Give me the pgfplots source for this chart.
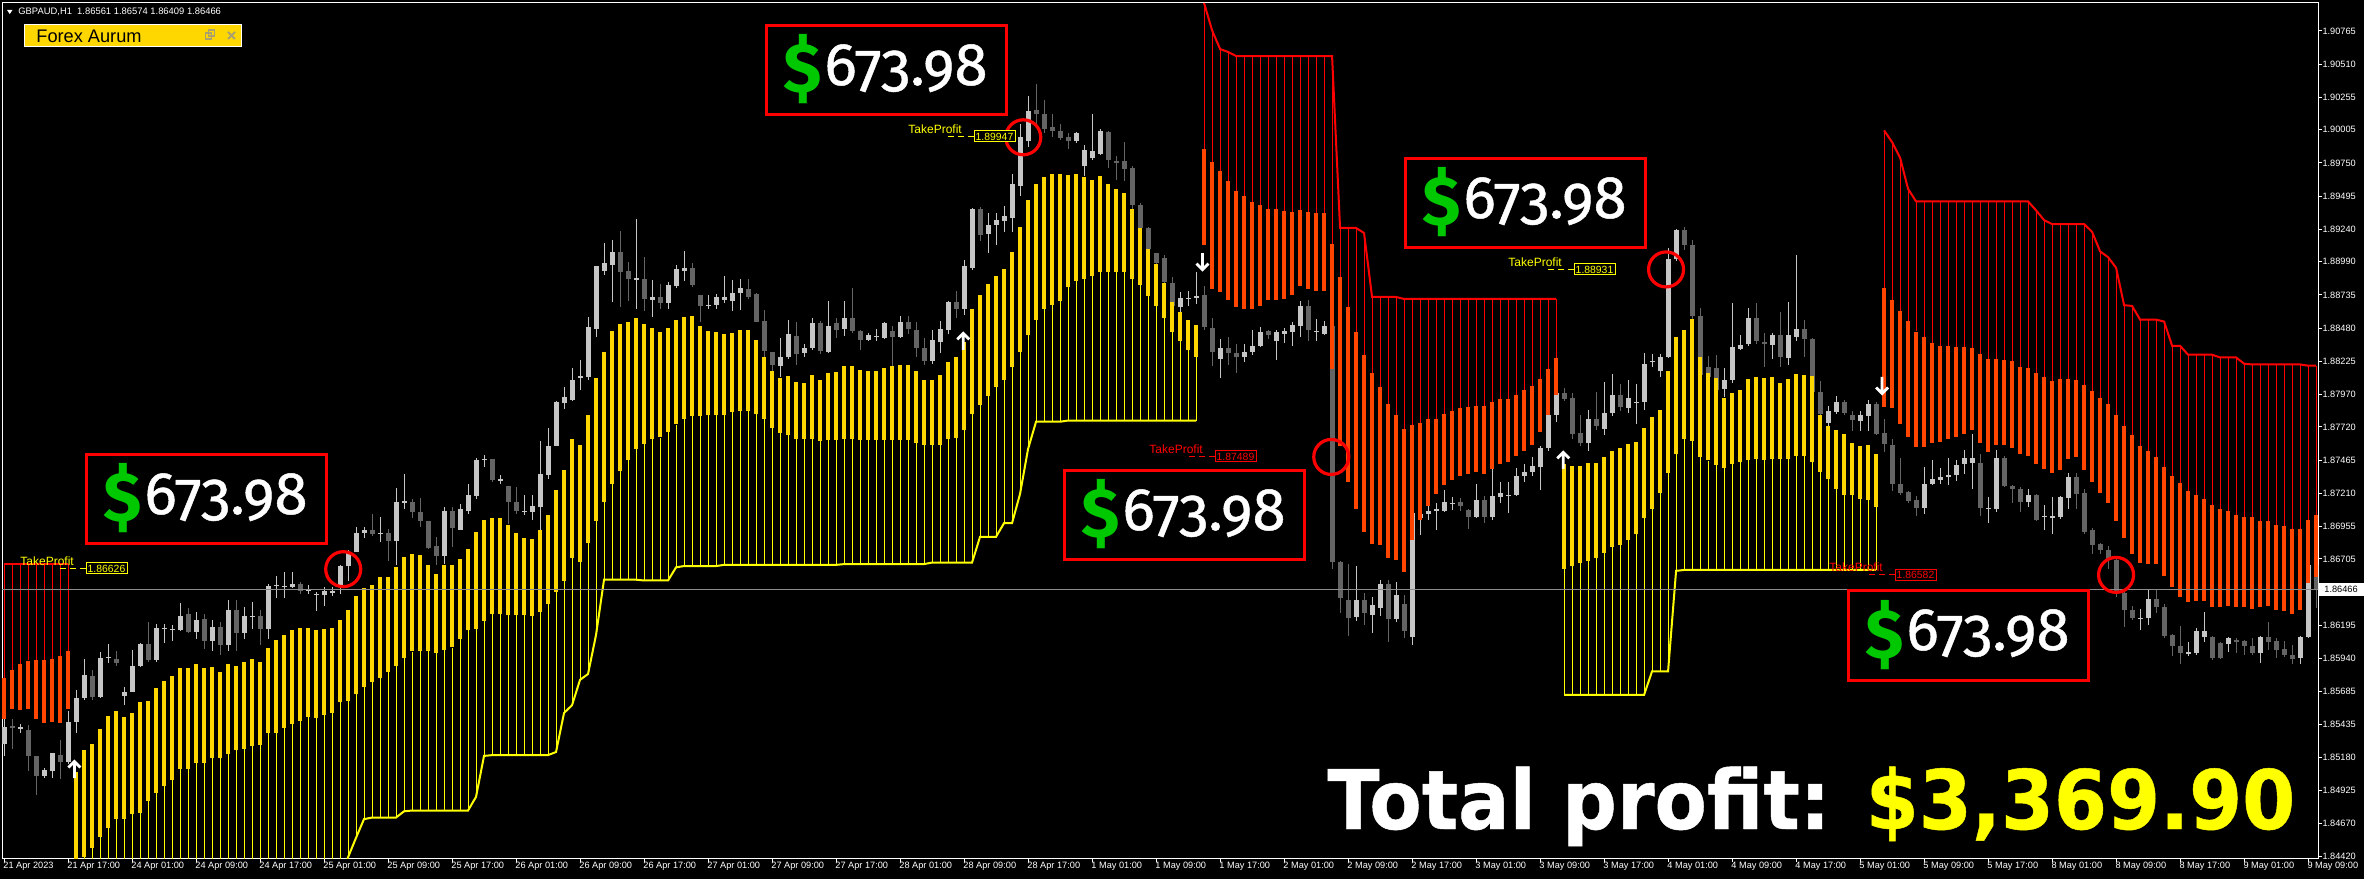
\documentclass[border=0pt]{standalone}
\usepackage{fontspec}
\setmainfont{Liberation Sans}
\newfontfamily\fira{Fira Sans}[Numbers=OldStyle]
\newfontfamily\firam{Fira Sans}[Numbers=OldStyle, FakeBold=0.8]
\newfontfamily\djv{DejaVu Sans}[FakeBold=0.6]
\usepackage{graphicx}
\usepackage{pgfplots}
\usepackage{pgfplotstable}
\pgfplotsset{compat=1.18}
\definecolor{upc}{RGB}{198,198,198}
\definecolor{dnc}{RGB}{100,100,100}
\definecolor{goldc}{RGB}{255,215,0}
\definecolor{ored}{RGB}{255,69,0}
\definecolor{yel}{RGB}{255,255,0}
\definecolor{grn}{RGB}{0,200,0}
\definecolor{pgray}{RGB}{140,140,140}
\definecolor{icon}{RGB}{170,160,110}
\newcommand\fs[1]{\fontsize{#1}{#1}\selectfont}
\pgfdeclareplotmark{uarr}{%
  \pgfpathmoveto{\pgfqpoint{-3bp}{0.8bp}}\pgfpathlineto{\pgfqpoint{0bp}{3.8bp}}\pgfpathlineto{\pgfqpoint{3bp}{0.8bp}}%
  \pgfpathmoveto{\pgfqpoint{0bp}{3.8bp}}\pgfpathlineto{\pgfqpoint{0bp}{-4.5bp}}\pgfusepathqstroke}
\pgfdeclareplotmark{darr}{%
  \pgfpathmoveto{\pgfqpoint{-3bp}{-0.8bp}}\pgfpathlineto{\pgfqpoint{0bp}{-3.8bp}}\pgfpathlineto{\pgfqpoint{3bp}{-0.8bp}}%
  \pgfpathmoveto{\pgfqpoint{0bp}{-3.8bp}}\pgfpathlineto{\pgfqpoint{0bp}{4.5bp}}\pgfusepathqstroke}

% ---------------- candles: up (light) ----------------
\pgfplotstableread{
i l h bl bh
0 1.85190 1.85475 1.85280 1.85415
2 1.85370 1.85436 1.85405 1.85412
5 1.85022 1.85100 1.85034 1.85082
6 1.85016 1.85211 1.85076 1.85211
8 1.85130 1.85535 1.85145 1.85454
9 1.85364 1.85700 1.85454 1.85634
10 1.85619 1.85934 1.85634 1.85814
12 1.85634 1.85985 1.85646 1.85940
13 1.85904 1.86054 1.85944 1.85950
15 1.85580 1.85724 1.85655 1.85685
16 1.85685 1.86006 1.85685 1.85880
17 1.85874 1.86060 1.85880 1.86051
19 1.85916 1.86204 1.85925 1.86174
20 1.86060 1.86204 1.86171 1.86177
21 1.86075 1.86195 1.86162 1.86168
22 1.86150 1.86366 1.86156 1.86270
24 1.86090 1.86300 1.86144 1.86240
26 1.85994 1.86234 1.86075 1.86180
28 1.86000 1.86390 1.86045 1.86315
30 1.86090 1.86336 1.86135 1.86264
31 1.86165 1.86375 1.86261 1.86267
33 1.86090 1.86510 1.86165 1.86495
34 1.86405 1.86576 1.86501 1.86507
35 1.86405 1.86606 1.86492 1.86498
36 1.86480 1.86606 1.86489 1.86516
38 1.86435 1.86504 1.86459 1.86474
39 1.86306 1.86450 1.86432 1.86438
40 1.86345 1.86486 1.86426 1.86456
41 1.86420 1.86492 1.86444 1.86456
42 1.86435 1.86660 1.86495 1.86654
43 1.86534 1.86774 1.86654 1.86762
44 1.86762 1.86954 1.86762 1.86906
45 1.86870 1.86954 1.86906 1.86930
47 1.86834 1.87026 1.86903 1.86909
49 1.86660 1.87254 1.86840 1.87146
50 1.87086 1.87356 1.87143 1.87149
55 1.86666 1.87104 1.86726 1.87074
57 1.86930 1.87125 1.86930 1.87086
58 1.87050 1.87284 1.87074 1.87200
59 1.87170 1.87485 1.87194 1.87470
60 1.87410 1.87506 1.87467 1.87473
62 1.87284 1.87350 1.87311 1.87317
65 1.87044 1.87194 1.87071 1.87077
66 1.87005 1.87194 1.87065 1.87110
67 1.86930 1.87614 1.87104 1.87356
68 1.87320 1.87716 1.87350 1.87578
69 1.87575 1.87920 1.87575 1.87914
70 1.87860 1.88025 1.87905 1.87950
71 1.87920 1.88175 1.87926 1.88085
72 1.88004 1.88235 1.88103 1.88109
73 1.88085 1.88565 1.88100 1.88490
74 1.88415 1.88955 1.88475 1.88955
75 1.88885 1.89131 1.88924 1.88981
76 1.88681 1.89161 1.88966 1.89065
79 1.88630 1.89320 1.88858 1.88864
81 1.88570 1.88849 1.88699 1.88720
83 1.88630 1.88831 1.88675 1.88813
84 1.88789 1.88969 1.88801 1.88939
85 1.88840 1.89071 1.88921 1.88939
88 1.88630 1.88735 1.88654 1.88660
89 1.88630 1.88741 1.88660 1.88720
90 1.88675 1.88879 1.88696 1.88717
91 1.88615 1.88849 1.88690 1.88750
92 1.88621 1.88861 1.88750 1.88789
97 1.88105 1.88405 1.88189 1.88255
98 1.88240 1.88540 1.88255 1.88435
100 1.88261 1.88360 1.88285 1.88330
101 1.88315 1.88555 1.88330 1.88519
103 1.88285 1.88690 1.88300 1.88500
105 1.88420 1.88690 1.88470 1.88555
108 1.88381 1.88441 1.88390 1.88430
109 1.88381 1.88471 1.88414 1.88420
110 1.88399 1.88531 1.88405 1.88516
112 1.88405 1.88570 1.88411 1.88531
116 1.88201 1.88465 1.88231 1.88390
117 1.88291 1.88531 1.88375 1.88470
118 1.88435 1.88690 1.88465 1.88681
120 1.88585 1.89005 1.88630 1.88960
121 1.88930 1.89401 1.88945 1.89395
123 1.89060 1.89365 1.89200 1.89270
124 1.89120 1.89365 1.89275 1.89311
125 1.89221 1.89419 1.89305 1.89341
126 1.89221 1.89665 1.89330 1.89590
127 1.89500 1.90050 1.89575 1.89950
128 1.89875 1.90265 1.89920 1.90151
134 1.89905 1.89989 1.89920 1.89980
135 1.89650 1.89890 1.89731 1.89851
136 1.89770 1.90130 1.89791 1.89839
137 1.89815 1.90010 1.89821 1.89995
147 1.88602 1.88756 1.88643 1.88712
148 1.88650 1.88765 1.88709 1.88715
149 1.88664 1.88911 1.88712 1.88732
152 1.88094 1.88396 1.88242 1.88328
155 1.88218 1.88362 1.88259 1.88300
156 1.88276 1.88465 1.88300 1.88345
157 1.88335 1.88490 1.88345 1.88448
159 1.88232 1.88465 1.88379 1.88448
160 1.88369 1.88482 1.88437 1.88458
161 1.88345 1.88527 1.88448 1.88500
162 1.88413 1.88688 1.88500 1.88653
164 1.88379 1.88551 1.88455 1.88461
165 1.88424 1.88533 1.88437 1.88500
169 1.86228 1.86654 1.86263 1.86390
171 1.86139 1.86414 1.86276 1.86355
172 1.86263 1.86544 1.86331 1.86516
174 1.86218 1.86527 1.86242 1.86424
176 1.86047 1.87058 1.86105 1.87058
177 1.86887 1.87134 1.87017 1.87051
178 1.87007 1.87127 1.87051 1.87076
179 1.86928 1.87134 1.87076 1.87093
180 1.87065 1.87237 1.87076 1.87144
181 1.87082 1.87185 1.87131 1.87137
184 1.87017 1.87281 1.87031 1.87161
186 1.87007 1.87402 1.87024 1.87189
187 1.87134 1.87298 1.87178 1.87213
188 1.87059 1.87298 1.87193 1.87199
189 1.87189 1.87402 1.87196 1.87340
190 1.87298 1.87436 1.87340 1.87374
191 1.87340 1.87487 1.87374 1.87419
192 1.87237 1.87573 1.87408 1.87556
193 1.87532 1.87847 1.87556 1.87813
194 1.87762 1.87991 1.87813 1.87985
198 1.87539 1.87854 1.87600 1.87779
200 1.87659 1.88070 1.87703 1.87830
201 1.87806 1.88129 1.87830 1.87967
203 1.87830 1.88080 1.87864 1.87943
204 1.87745 1.88053 1.87906 1.87912
205 1.87854 1.88293 1.87909 1.88208
206 1.88185 1.88278 1.88222 1.88228
207 1.88105 1.88280 1.88149 1.88259
208 1.88252 1.89099 1.88259 1.89013
209 1.88996 1.89247 1.89013 1.89237
215 1.87950 1.88173 1.88012 1.88080
216 1.88060 1.88671 1.88080 1.88334
217 1.88310 1.88424 1.88320 1.88355
218 1.88345 1.88636 1.88355 1.88561
221 1.88240 1.88446 1.88350 1.88425
223 1.88194 1.88680 1.88254 1.88425
224 1.88380 1.89040 1.88416 1.88476
228 1.87690 1.87885 1.87750 1.87840
229 1.87816 1.87954 1.87834 1.87915
232 1.87690 1.87840 1.87765 1.87810
233 1.87690 1.87930 1.87804 1.87894
240 1.87054 1.87414 1.87096 1.87285
241 1.87270 1.87465 1.87285 1.87324
242 1.87285 1.87405 1.87315 1.87336
243 1.87276 1.87480 1.87336 1.87354
244 1.87306 1.87465 1.87354 1.87426
245 1.87360 1.87546 1.87435 1.87480
246 1.87240 1.87666 1.87444 1.87480
248 1.86985 1.87180 1.87093 1.87099
249 1.87066 1.87540 1.87090 1.87480
253 1.87105 1.87240 1.87144 1.87195
255 1.86925 1.87120 1.87033 1.87039
256 1.86895 1.87180 1.87027 1.87033
257 1.87015 1.87186 1.87024 1.87180
258 1.87090 1.87366 1.87174 1.87336
267 1.86160 1.86325 1.86247 1.86253
268 1.86196 1.86466 1.86250 1.86394
273 1.85956 1.86070 1.85983 1.85989
274 1.85965 1.86175 1.85980 1.86154
275 1.86064 1.86295 1.86106 1.86154
278 1.85986 1.86106 1.86055 1.86100
282 1.85905 1.86115 1.85980 1.86106
287 1.85896 1.86115 1.85944 1.86106
288 1.86100 1.86670 1.86106 1.86655
}\upt

% ---------------- candles: down (dark) ----------------
\pgfplotstableread{
i l h bl bh
1 1.85244 1.85475 1.85406 1.85424
3 1.85076 1.85430 1.85190 1.85394
4 1.84890 1.85190 1.85040 1.85190
7 1.85016 1.85316 1.85145 1.85199
11 1.85625 1.85850 1.85646 1.85805
14 1.85880 1.86000 1.85904 1.85940
18 1.85910 1.86216 1.85925 1.86051
23 1.86135 1.86330 1.86144 1.86279
25 1.86015 1.86285 1.86075 1.86240
27 1.85970 1.86225 1.86045 1.86180
29 1.86000 1.86390 1.86135 1.86315
32 1.86045 1.86315 1.86165 1.86264
37 1.86435 1.86525 1.86459 1.86510
46 1.86885 1.87050 1.86894 1.86930
48 1.86690 1.86936 1.86846 1.86906
51 1.87020 1.87164 1.87065 1.87146
52 1.86954 1.87176 1.86996 1.87065
53 1.86780 1.86996 1.86786 1.86996
54 1.86660 1.86870 1.86726 1.86804
56 1.86795 1.87104 1.86945 1.87074
61 1.87296 1.87470 1.87308 1.87470
63 1.86975 1.87266 1.87146 1.87266
64 1.87050 1.87260 1.87074 1.87140
77 1.88645 1.89230 1.88915 1.89065
78 1.88690 1.88990 1.88861 1.88921
80 1.88615 1.89029 1.88705 1.88855
82 1.88630 1.88819 1.88675 1.88720
86 1.88795 1.88981 1.88810 1.88945
87 1.88525 1.88735 1.88651 1.88735
93 1.88705 1.88855 1.88720 1.88780
94 1.88525 1.88750 1.88531 1.88741
95 1.88255 1.88621 1.88300 1.88531
96 1.88111 1.88300 1.88201 1.88300
99 1.88195 1.88525 1.88285 1.88420
102 1.88279 1.88531 1.88300 1.88519
104 1.88405 1.88555 1.88470 1.88519
106 1.88441 1.88790 1.88460 1.88555
107 1.88315 1.88465 1.88390 1.88460
111 1.88171 1.88495 1.88411 1.88460
113 1.88435 1.88570 1.88470 1.88531
114 1.88255 1.88525 1.88330 1.88470
115 1.88195 1.88405 1.88225 1.88330
119 1.88555 1.88765 1.88630 1.88681
122 1.89149 1.89410 1.89200 1.89395
129 1.90040 1.90361 1.90130 1.90160
130 1.89980 1.90235 1.90010 1.90130
131 1.89950 1.90130 1.89995 1.90025
132 1.89929 1.90050 1.89941 1.89999
133 1.89860 1.89980 1.89920 1.89950
138 1.89710 1.89995 1.89770 1.89989
139 1.89620 1.89800 1.89749 1.89770
140 1.89611 1.89911 1.89701 1.89761
141 1.89395 1.89725 1.89431 1.89710
142 1.89215 1.89440 1.89251 1.89431
143 1.89041 1.89260 1.89089 1.89251
144 1.88969 1.89059 1.88981 1.89059
145 1.88765 1.89041 1.88831 1.89020
146 1.88560 1.88876 1.88650 1.88825
150 1.88465 1.88808 1.88492 1.88732
151 1.88190 1.88561 1.88293 1.88482
153 1.88197 1.88413 1.88286 1.88328
154 1.88139 1.88362 1.88259 1.88290
158 1.88396 1.88465 1.88424 1.88458
163 1.88379 1.88698 1.88465 1.88653
166 1.86630 1.88530 1.86681 1.88500
167 1.86287 1.86688 1.86407 1.86681
168 1.86115 1.86664 1.86252 1.86390
170 1.86194 1.86441 1.86287 1.86390
173 1.86064 1.86544 1.86242 1.86516
175 1.86098 1.86424 1.86150 1.86355
182 1.87076 1.87178 1.87110 1.87144
183 1.86938 1.87093 1.87031 1.87086
185 1.86983 1.87189 1.87031 1.87161
195 1.87916 1.88019 1.87933 1.87985
196 1.87624 1.87985 1.87669 1.87943
197 1.87573 1.87813 1.87600 1.87676
199 1.87693 1.87985 1.87727 1.87779
202 1.87847 1.88053 1.87875 1.87967
210 1.89082 1.89254 1.89117 1.89237
211 1.88551 1.89158 1.88575 1.89117
212 1.88070 1.88636 1.88122 1.88575
213 1.88053 1.88270 1.88105 1.88183
214 1.87967 1.88270 1.88002 1.88173
219 1.88355 1.88671 1.88379 1.88561
220 1.88185 1.88446 1.88356 1.88374
222 1.88185 1.88605 1.88260 1.88425
225 1.88260 1.88545 1.88395 1.88476
226 1.87984 1.88404 1.87990 1.88395
227 1.87765 1.88074 1.87816 1.87990
230 1.87816 1.87930 1.87825 1.87915
231 1.87690 1.87840 1.87774 1.87816
234 1.87660 1.87915 1.87666 1.87894
235 1.87525 1.87786 1.87585 1.87675
236 1.87225 1.87630 1.87285 1.87585
237 1.87195 1.87480 1.87210 1.87285
238 1.87135 1.87225 1.87150 1.87216
239 1.87036 1.87186 1.87096 1.87156
247 1.87036 1.87510 1.87096 1.87444
250 1.87255 1.87495 1.87264 1.87480
251 1.87135 1.87276 1.87240 1.87270
252 1.87066 1.87255 1.87144 1.87240
254 1.87000 1.87204 1.87006 1.87195
259 1.87090 1.87366 1.87204 1.87336
260 1.86895 1.87240 1.86916 1.87210
261 1.86745 1.86940 1.86814 1.86925
262 1.86745 1.86826 1.86775 1.86820
263 1.86625 1.86805 1.86700 1.86775
264 1.86415 1.86706 1.86445 1.86700
265 1.86184 1.86454 1.86310 1.86445
266 1.86235 1.86340 1.86250 1.86316
269 1.86286 1.86475 1.86334 1.86394
270 1.86100 1.86355 1.86115 1.86334
271 1.85956 1.86130 1.86040 1.86124
272 1.85896 1.86190 1.85986 1.86034
276 1.85926 1.86115 1.85944 1.86106
277 1.85935 1.86070 1.85944 1.86055
279 1.85980 1.86100 1.86064 1.86085
280 1.85965 1.86085 1.86040 1.86076
281 1.85965 1.86100 1.85980 1.86034
283 1.86004 1.86220 1.86064 1.86106
284 1.85944 1.86100 1.86004 1.86076
285 1.85950 1.86076 1.85965 1.86010
286 1.85896 1.86046 1.85935 1.85965
289 1.86327 1.86670 1.86466 1.86655
}\dnt

% ---------------- bullish band: stop s, bar bottom b, bar top t ----------------
\pgfplotstableread{
i s b t
9 1.84000 1.84000 1.85070
10 1.84000 1.84410 1.85235
11 1.84000 1.84485 1.85280
12 1.84000 1.84566 1.85400
13 1.84000 1.84635 1.85496
14 1.84000 1.84704 1.85535
15 1.84000 1.84704 1.85490
16 1.84000 1.84746 1.85520
17 1.84000 1.84755 1.85604
18 1.84000 1.84845 1.85616
19 1.84000 1.84905 1.85715
20 1.84000 1.84956 1.85766
21 1.84000 1.85010 1.85805
22 1.84000 1.85094 1.85865
23 1.84000 1.85094 1.85865
24 1.84000 1.85136 1.85895
25 1.84000 1.85136 1.85865
26 1.84000 1.85175 1.85874
27 1.84000 1.85175 1.85835
28 1.84000 1.85205 1.85895
29 1.84000 1.85235 1.85880
30 1.84000 1.85244 1.85916
31 1.84000 1.85265 1.85934
32 1.84000 1.85274 1.85916
33 1.84000 1.85370 1.86024
34 1.84000 1.85364 1.86084
35 1.84000 1.85406 1.86120
36 1.84000 1.85436 1.86156
37 1.84000 1.85460 1.86174
38 1.84000 1.85490 1.86174
39 1.84000 1.85484 1.86156
40 1.84000 1.85505 1.86165
41 1.84000 1.85520 1.86174
42 1.84250 1.85604 1.86234
43 1.84410 1.85610 1.86315
44 1.84560 1.85670 1.86420
45 1.84704 1.85724 1.86486
46 1.84716 1.85760 1.86504
47 1.84716 1.85790 1.86564
48 1.84716 1.85835 1.86564
49 1.84716 1.85886 1.86645
50 1.84764 1.85940 1.86720
51 1.84770 1.85994 1.86744
52 1.84770 1.86000 1.86735
53 1.84770 1.86000 1.86660
54 1.84770 1.85985 1.86594
55 1.84770 1.86006 1.86660
56 1.84770 1.86024 1.86660
57 1.84770 1.86090 1.86705
58 1.84770 1.86156 1.86780
59 1.84875 1.86165 1.86915
60 1.85190 1.86225 1.87005
61 1.85196 1.86285 1.87020
62 1.85196 1.86285 1.87020
63 1.85196 1.86276 1.86966
64 1.85196 1.86276 1.86906
65 1.85196 1.86276 1.86864
66 1.85196 1.86270 1.86855
67 1.85196 1.86300 1.86924
68 1.85196 1.86360 1.87044
69 1.85220 1.86450 1.87236
70 1.85520 1.86534 1.87386
71 1.85580 1.86714 1.87626
72 1.85775 1.86680 1.87580
73 1.85820 1.86830 1.87813
74 1.86120 1.87000 1.88100
75 1.86545 1.87145 1.88300
76 1.86545 1.87280 1.88459
77 1.86545 1.87385 1.88510
78 1.86545 1.87469 1.88531
79 1.86545 1.87550 1.88555
80 1.86539 1.87589 1.88510
81 1.86539 1.87625 1.88480
82 1.86539 1.87640 1.88450
83 1.86539 1.87685 1.88480
84 1.86640 1.87739 1.88540
85 1.86650 1.87781 1.88570
86 1.86650 1.87805 1.88570
87 1.86650 1.87805 1.88495
88 1.86650 1.87811 1.88459
89 1.86650 1.87811 1.88450
90 1.86659 1.87811 1.88435
91 1.86659 1.87835 1.88441
92 1.86659 1.87841 1.88465
93 1.86659 1.87841 1.88465
94 1.86659 1.87820 1.88390
95 1.86659 1.87781 1.88261
96 1.86659 1.87715 1.88150
97 1.86659 1.87670 1.88099
98 1.86659 1.87655 1.88111
99 1.86659 1.87625 1.88069
100 1.86659 1.87625 1.88060
101 1.86659 1.87625 1.88120
102 1.86659 1.87610 1.88081
103 1.86659 1.87619 1.88135
104 1.86659 1.87619 1.88141
105 1.86665 1.87625 1.88189
106 1.86665 1.87625 1.88189
107 1.86665 1.87625 1.88159
108 1.86665 1.87619 1.88150
109 1.86665 1.87619 1.88150
110 1.86665 1.87619 1.88171
111 1.86665 1.87619 1.88189
112 1.86665 1.87619 1.88195
113 1.86665 1.87619 1.88195
114 1.86665 1.87595 1.88150
115 1.86665 1.87580 1.88081
116 1.86677 1.87580 1.88081
117 1.86677 1.87580 1.88120
118 1.86677 1.87625 1.88219
119 1.86677 1.87631 1.88261
120 1.86677 1.87700 1.88375
121 1.86677 1.87820 1.88630
122 1.86875 1.87889 1.88735
123 1.86875 1.87961 1.88819
124 1.86875 1.88030 1.88879
125 1.86980 1.88081 1.88939
126 1.86980 1.88180 1.89065
127 1.87205 1.88300 1.89260
128 1.87550 1.88429 1.89470
129 1.87760 1.88540 1.89590
130 1.87760 1.88630 1.89641
131 1.87760 1.88660 1.89665
132 1.87760 1.88690 1.89665
133 1.87769 1.88795 1.89659
134 1.87769 1.88840 1.89665
135 1.87769 1.88861 1.89641
136 1.87769 1.88879 1.89620
137 1.87769 1.88915 1.89650
138 1.87769 1.88915 1.89590
139 1.87769 1.88915 1.89551
140 1.87769 1.88909 1.89515
141 1.87769 1.88861 1.89395
142 1.87769 1.88810 1.89251
143 1.87769 1.88729 1.89089
144 1.87769 1.88651 1.88975
145 1.87769 1.88561 1.88831
146 1.87769 1.88450 1.88677
147 1.87769 1.88379 1.88602
148 1.87769 1.88310 1.88540
149 1.87769 1.88259 1.88506
195 1.85659 1.86630 1.87436
196 1.85659 1.86654 1.87419
197 1.85659 1.86674 1.87419
198 1.85659 1.86688 1.87443
199 1.85659 1.86715 1.87443
200 1.85659 1.86750 1.87487
201 1.85659 1.86801 1.87539
202 1.85659 1.86812 1.87556
203 1.85659 1.86853 1.87590
204 1.85659 1.86894 1.87607
205 1.85659 1.87017 1.87710
206 1.85841 1.87093 1.87796
207 1.85841 1.87213 1.87854
208 1.85841 1.87367 1.88150
209 1.86613 1.87511 1.88413
210 1.86620 1.87625 1.88465
211 1.86620 1.87614 1.88550
212 1.86620 1.87487 1.88259
213 1.86620 1.87463 1.88139
214 1.86620 1.87429 1.88094
215 1.86620 1.87401 1.87940
216 1.86620 1.87436 1.87978
217 1.86620 1.87453 1.88002
218 1.86620 1.87470 1.88094
219 1.86620 1.87477 1.88105
220 1.86620 1.87465 1.88095
221 1.86620 1.87474 1.88104
222 1.86620 1.87474 1.88056
223 1.86620 1.87474 1.88086
224 1.86620 1.87495 1.88125
225 1.86620 1.87495 1.88116
226 1.86620 1.87450 1.88116
227 1.86620 1.87375 1.87810
228 1.86620 1.87324 1.87726
229 1.86620 1.87240 1.87696
230 1.86620 1.87195 1.87666
231 1.86620 1.87195 1.87594
232 1.86620 1.87165 1.87576
233 1.86620 1.87156 1.87585
234 1.86620 1.87105 1.87516
}\yelt

% ---------------- bearish band: stop s, bar top t, bar bottom b ----------------
\pgfplotstableread{
i s t b
0 1.86666 1.85790 1.85475
1 1.86666 1.85850 1.85550
2 1.86666 1.85895 1.85544
3 1.86666 1.85925 1.85556
4 1.86666 1.85925 1.85475
5 1.86666 1.85925 1.85445
6 1.86666 1.85940 1.85454
7 1.86666 1.85955 1.85445
8 1.86666 1.85994 1.85550
150 1.90980 1.89854 1.89120
151 1.90770 1.89761 1.88780
152 1.90626 1.89689 1.88756
153 1.90603 1.89614 1.88698
154 1.90572 1.89535 1.88643
155 1.90572 1.89494 1.88629
156 1.90572 1.89453 1.88629
157 1.90572 1.89425 1.88653
158 1.90572 1.89398 1.88698
159 1.90572 1.89398 1.88698
160 1.90572 1.89381 1.88705
161 1.90572 1.89374 1.88732
162 1.90572 1.89391 1.88801
163 1.90572 1.89374 1.88780
164 1.90572 1.89363 1.88767
165 1.90572 1.89363 1.88767
166 1.90572 1.89123 1.88163
167 1.89250 1.88876 1.87573
168 1.89250 1.88643 1.87299
169 1.89250 1.88448 1.87093
170 1.89211 1.88276 1.86915
171 1.88719 1.88139 1.86818
172 1.88719 1.88026 1.86812
173 1.88719 1.87899 1.86715
174 1.88719 1.87813 1.86698
175 1.88704 1.87703 1.86606
176 1.88704 1.87738 1.86853
177 1.88704 1.87751 1.87007
178 1.88704 1.87779 1.87110
179 1.88704 1.87779 1.87202
180 1.88704 1.87820 1.87271
181 1.88704 1.87841 1.87316
182 1.88704 1.87865 1.87340
183 1.88704 1.87875 1.87360
184 1.88704 1.87882 1.87374
185 1.88704 1.87882 1.87360
186 1.88704 1.87909 1.87395
187 1.88704 1.87933 1.87436
188 1.88704 1.87933 1.87453
189 1.88704 1.87968 1.87498
190 1.88704 1.88002 1.87539
191 1.88704 1.88036 1.87580
192 1.88704 1.88088 1.87683
193 1.88704 1.88163 1.87813
194 1.88704 1.88252 1.87968
235 1.90000 1.88785 1.87870
236 1.89910 1.88695 1.87870
237 1.89790 1.88614 1.87744
238 1.89550 1.88536 1.87645
239 1.89454 1.88455 1.87564
240 1.89454 1.88410 1.87564
241 1.89454 1.88365 1.87594
242 1.89454 1.88344 1.87606
243 1.89454 1.88344 1.87624
244 1.89454 1.88335 1.87645
245 1.89454 1.88335 1.87666
246 1.89454 1.88329 1.87696
247 1.89454 1.88284 1.87594
248 1.89454 1.88245 1.87525
249 1.89454 1.88245 1.87585
250 1.89454 1.88236 1.87585
251 1.89454 1.88224 1.87555
252 1.89454 1.88185 1.87510
253 1.89454 1.88176 1.87495
254 1.89385 1.88134 1.87435
255 1.89310 1.88104 1.87396
256 1.89280 1.88074 1.87366
257 1.89280 1.88086 1.87390
258 1.89280 1.88086 1.87474
259 1.89280 1.88080 1.87486
260 1.89280 1.88044 1.87390
261 1.89220 1.87996 1.87294
262 1.89070 1.87945 1.87216
263 1.89025 1.87900 1.87135
264 1.88944 1.87810 1.86994
265 1.88656 1.87726 1.86865
266 1.88650 1.87654 1.86745
267 1.88545 1.87576 1.86676
268 1.88545 1.87534 1.86664
269 1.88545 1.87486 1.86664
270 1.88530 1.87414 1.86574
271 1.88344 1.87345 1.86490
272 1.88344 1.87285 1.86415
273 1.88275 1.87225 1.86376
274 1.88275 1.87195 1.86385
275 1.88275 1.87165 1.86385
276 1.88275 1.87120 1.86334
277 1.88254 1.87090 1.86334
278 1.88254 1.87075 1.86340
279 1.88254 1.87045 1.86340
280 1.88206 1.87030 1.86334
281 1.88200 1.87030 1.86325
282 1.88200 1.87000 1.86334
283 1.88200 1.86994 1.86340
284 1.88200 1.86964 1.86310
285 1.88200 1.86955 1.86304
286 1.88200 1.86934 1.86280
287 1.88200 1.86934 1.86310
288 1.88191 1.87006 1.86520
289 1.88191 1.87045 1.86565
}\redt

\newcommand\pbox[2]{%
  \draw[red, line width=1.5bp] (#1,879-#2) rectangle ++(240,-89);
  \node[anchor=base west, inner sep=0pt, text=grn, font=\fira\bfseries\fs{35bp}] at (#1+17,879-#2-67) {\$};
  \node[anchor=base west, inner sep=0pt, text=white, font=\firam\fs{30bp}] at (#1+58,879-#2-59) {673.98};
}
\newcommand\tp[4]{%
  \node[anchor=base west, inner sep=0pt, text=#1, font=\fs{6bp}] at (#2,879-#3+3) {TakeProfit};
  \draw[#1, densely dashed, line width=0.5bp] (#2+40,879-#3) -- (#2+66,879-#3);
  \draw[#1, line width=0.5bp, fill=black] (#2+66,879-#3+5.5) rectangle (#2+107,879-#3-5.5);
  \node[inner sep=0pt, text=#1, font=\fs{5.2bp}] at (#2+86.5,879-#3) {#4};
}

\begin{document}
\begin{tikzpicture}[x=0.5bp,y=0.5bp]
\useasboundingbox (0,0) rectangle (2364,879);
\fill[black] (0,0) rectangle (2364,879);
\begin{axis}[
  at={(1bp,10.5bp)}, anchor=south west,
  scale only axis, width=1158bp, height=427.5bp,
  xmin=-0.25, xmax=289.25, ymin=1.84405, ymax=1.90980,
  axis background/.style={fill=black},
  axis line style={white, line width=0.5bp},
  tick style={white, line width=0.5bp},
  major tick length=2bp, tick align=outside,
  xtick pos=bottom, ytick pos=right, yticklabel pos=right,
  xtick={0,8,...,288},
  xticklabels={21 Apr 2023,21 Apr 17:00,24 Apr 01:00,24 Apr 09:00,24 Apr 17:00,25 Apr 01:00,25 Apr 09:00,25 Apr 17:00,26 Apr 01:00,26 Apr 09:00,26 Apr 17:00,27 Apr 01:00,27 Apr 09:00,27 Apr 17:00,28 Apr 01:00,28 Apr 09:00,28 Apr 17:00,1 May 01:00,1 May 09:00,1 May 17:00,2 May 01:00,2 May 09:00,2 May 17:00,3 May 01:00,3 May 09:00,3 May 17:00,4 May 01:00,4 May 09:00,4 May 17:00,5 May 01:00,5 May 09:00,5 May 17:00,8 May 01:00,8 May 09:00,8 May 17:00,9 May 01:00,9 May 09:00},
  ytick={1.84420,1.84670,1.84925,1.85180,1.85435,1.85685,1.85940,1.86195,1.86705,1.86955,1.87210,1.87465,1.87720,1.87970,1.88225,1.88480,1.88735,1.88990,1.89240,1.89495,1.89750,1.90005,1.90255,1.90510,1.90765},
  yticklabels={1.84420,1.84670,1.84925,1.85180,1.85435,1.85685,1.85940,1.86195,1.86705,1.86955,1.87210,1.87465,1.87720,1.87970,1.88225,1.88480,1.88735,1.88990,1.89240,1.89495,1.89750,1.90005,1.90255,1.90510,1.90765},
  xticklabel style={anchor=north west, inner sep=0pt, text=white, font=\fs{4.6bp}, xshift=-0.5bp},
  yticklabel style={anchor=west, inner sep=0pt, text=white, font=\fs{4.6bp}},
]
% candles
\addplot[draw=none, error bars/.cd, y dir=both, y explicit, error mark=none, error bar style={draw=dnc, line width=0.5bp}]
  table[x=i, y expr={(\thisrow{h}+\thisrow{l})/2}, y error expr={(\thisrow{h}-\thisrow{l})/2}] {\dnt};
\addplot[draw=none, error bars/.cd, y dir=both, y explicit, error mark=none, error bar style={draw=upc, line width=0.5bp}]
  table[x=i, y expr={(\thisrow{h}+\thisrow{l})/2}, y error expr={(\thisrow{h}-\thisrow{l})/2}] {\upt};
\addplot[draw=none, error bars/.cd, y dir=both, y explicit, error mark=none, error bar style={draw=dnc, line width=2.5bp}]
  table[x=i, y expr={(\thisrow{bh}+\thisrow{bl})/2}, y error expr={(\thisrow{bh}-\thisrow{bl})/2}] {\dnt};
\addplot[draw=none, error bars/.cd, y dir=both, y explicit, error mark=none, error bar style={draw=upc, line width=2.5bp}]
  table[x=i, y expr={(\thisrow{bh}+\thisrow{bl})/2}, y error expr={(\thisrow{bh}-\thisrow{bl})/2}] {\upt};
% bearish band
\addplot[draw=none, error bars/.cd, y dir=both, y explicit, error mark=none, error bar style={draw=red, line width=0.5bp}]
  table[x=i, y expr={(\thisrow{s}+\thisrow{t})/2}, y error expr={(\thisrow{s}-\thisrow{t})/2}] {\redt};
\addplot[draw=none, error bars/.cd, y dir=both, y explicit, error mark=none, error bar style={draw=ored, line width=1.75bp}]
  table[x=i, y expr={(\thisrow{t}+\thisrow{b})/2}, y error expr={(\thisrow{t}-\thisrow{b})/2}] {\redt};
% bullish band
\addplot[draw=none, error bars/.cd, y dir=both, y explicit, error mark=none, error bar style={draw=yel, line width=0.5bp}]
  table[x=i, y expr={(\thisrow{b}+\thisrow{s})/2}, y error expr={(\thisrow{b}-\thisrow{s})/2}] {\yelt};
\addplot[draw=none, error bars/.cd, y dir=both, y explicit, error mark=none, error bar style={draw=goldc, line width=1.75bp}]
  table[x=i, y expr={(\thisrow{t}+\thisrow{b})/2}, y error expr={(\thisrow{t}-\thisrow{b})/2}] {\yelt};
% stop lines
\addplot[red, line width=1bp, restrict x to domain=0:8] table[x=i, y=s] {\redt};
\addplot[red, line width=1bp, restrict x to domain=150:194] table[x=i, y=s] {\redt};
\addplot[red, line width=1bp, restrict x to domain=235:289] table[x=i, y=s] {\redt};
\addplot[yel, line width=1bp, restrict x to domain=9:149] table[x=i, y=s] {\yelt};
\addplot[yel, line width=1bp, restrict x to domain=195:234] table[x=i, y=s] {\yelt};
% current price line
\addplot[pgray, line width=0.5bp] coordinates {(-1,1.86466) (291,1.86466)};
% signals
\addplot[only marks, mark=uarr, mark options={draw=white, line width=1.4bp}] coordinates {(8.8,1.85089) (119.9,1.88381) (194.9,1.87466)};
\addplot[only marks, mark=darr, mark options={draw=white, line width=1.4bp}] coordinates {(149.8,1.88988) (234.75,1.88035)};
\addplot[only marks, mark=o, mark size=8.75bp, mark options={draw=red, line width=1.6bp}] coordinates {(42.4,1.86626) (127.4,1.89947) (165.9,1.87489) (207.75,1.88931) (264,1.86582)};
\end{axis}
% header
\fill[white] (7,869) -- (12.5,869) -- (9.75,865) -- cycle;
\node[anchor=base west, inner sep=0pt, text=white, font=\fs{4.7bp}] at (18,864.5) {GBPAUD,H1\ \ 1.86561 1.86574 1.86409 1.86466};
\draw[white, fill=goldc, line width=0.5bp] (24,854) rectangle (241,832);
\node[anchor=base west, inner sep=0pt, text=black, font=\fs{9.1bp}] at (36,836.7) {Forex Aurum};
\draw[icon, line width=0.6bp] (205.5,846) rectangle (211.5,840);
\draw[icon, line width=0.6bp] (208.5,849) rectangle (214.5,843);
\draw[icon, line width=0.9bp] (228,847) -- (235,840) (228,840) -- (235,847);
% take profit tags
\tp{yel}{20}{568.5}{1.86626}
\tp{yel}{908}{136.5}{1.89947}
\tp{red}{1149}{456.5}{1.87489}
\tp{yel}{1508}{269.5}{1.88931}
\tp{red}{1829}{575}{1.86582}
% profit boxes
\pbox{86}{455}
\pbox{766}{26}
\pbox{1405}{159}
\pbox{1064}{471}
\pbox{1848}{591}
% total
\node[anchor=base west, inner sep=0pt, font=\djv\bfseries\fs{41bp}] at (1327,50) {\scalebox{0.93}[1]{\textcolor{white}{Total profit:} \textcolor{yel}{\$3,369.90}}};
% price tag
\fill[white] (2319,296) rectangle (2364,283);
\node[anchor=west, inner sep=0pt, text=black, font=\fs{4.6bp}] at (2324,289.5) {1.86466};
\end{tikzpicture}
\end{document}
